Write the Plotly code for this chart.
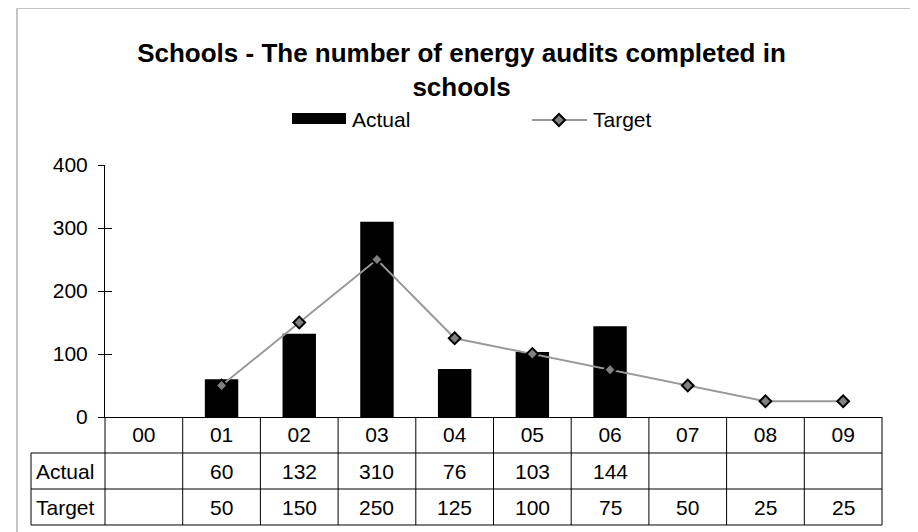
import plotly.graph_objects as go

categories = ["00", "01", "02", "03", "04", "05", "06", "07", "08", "09"]
actual = [None, 60, 132, 310, 76, 103, 144, None, None, None]
target = [None, 50, 150, 250, 125, 100, 75, 50, 25, 25]
series_names = ["Actual", "Target"]
y_ticks = [0, 100, 200, 300, 400]
title_text = "Schools - The number of energy audits completed in<br>schools"

OFF = 8  # browser default body margin
W, H = 918 - OFF, 532 - OFF
L, R, T, B = 105 - OFF, 882 - OFF, 165 - OFF, 417 - OFF  # plot-area edges


def px_x(px):
    """page pixel (reference) -> paper x"""
    return (px - OFF - L) / (R - L)


def px_y(py):
    return (B - (py - OFF)) / (B - T)


FONT = "Liberation Sans, Arial, sans-serif"
LINE_GRAY = "#999999"
MARK_GRAY = "#808080"

fig = go.Figure()
fig.add_trace(go.Bar(
    x=categories, y=actual, name=series_names[0], width=0.43,
    marker=dict(color="black", line=dict(width=0)), showlegend=False,
    hoverinfo="skip",
))
fig.add_trace(go.Scatter(
    x=categories, y=target, name=series_names[1], mode="lines+markers",
    yaxis="y2",
    line=dict(color=LINE_GRAY, width=2),
    marker=dict(symbol="diamond", size=9, color=MARK_GRAY,
                line=dict(color="black", width=2)),
    showlegend=False, hoverinfo="skip", cliponaxis=False,
))

shapes = []
# outer chart border
shapes.append(dict(type="rect", xref="paper", yref="paper",
                   x0=px_x(17), x1=px_x(935), y0=px_y(8), y1=px_y(550),
                   line=dict(color="#c4c4c4", width=2), layer="below"))

n = len(categories)
row_lines = [453, 489, 525]
# vertical category boundaries through the data table
for i in range(n + 1):
    shapes.append(dict(type="line", xref="paper", yref="paper",
                       x0=i / n, x1=i / n, y0=0, y1=px_y(525),
                       line=dict(color="black", width=1)))
# row label column left edge
shapes.append(dict(type="line", xref="paper", yref="paper",
                   x0=px_x(31), x1=px_x(31), y0=px_y(453), y1=px_y(525),
                   line=dict(color="black", width=1)))
for ry in row_lines:
    shapes.append(dict(type="line", xref="paper", yref="paper",
                       x0=px_x(31), x1=1, y0=px_y(ry), y1=px_y(ry),
                       line=dict(color="black", width=1)))

# custom legend
shapes.append(dict(type="rect", xref="paper", yref="paper",
                   x0=px_x(292), x1=px_x(346), y0=px_y(113), y1=px_y(124),
                   fillcolor="black", line=dict(width=0)))
shapes.append(dict(type="line", xref="paper", yref="paper",
                   x0=px_x(532), x1=px_x(587), y0=px_y(120), y1=px_y(120),
                   line=dict(color=LINE_GRAY, width=2)))
shapes.append(dict(type="path", xref="paper", yref="paper",
                   xsizemode="pixel", ysizemode="pixel",
                   xanchor=px_x(559), yanchor=px_y(120),
                   path="M -6 0 L 0 6 L 6 0 L 0 -6 Z",
                   fillcolor=MARK_GRAY, line=dict(color="black", width=2)))

annotations = []
annotations.append(dict(xref="paper", yref="paper", x=px_x(350), y=px_y(119),
                        text=series_names[0], showarrow=False, xanchor="left",
                        yanchor="middle", font=dict(family=FONT, size=21, color="black")))
annotations.append(dict(xref="paper", yref="paper", x=px_x(591), y=px_y(119),
                        text=series_names[1], showarrow=False, xanchor="left",
                        yanchor="middle", font=dict(family=FONT, size=21, color="black")))

# data table rows
rows = [(series_names[0], actual, 471), (series_names[1], target, 507)]
for label, vals, cy in rows:
    annotations.append(dict(xref="paper", yref="paper", x=px_x(34), y=px_y(cy),
                            text=label, showarrow=False, xanchor="left",
                            yanchor="middle",
                            font=dict(family=FONT, size=21, color="black")))
    for c, v in zip(categories, vals):
        if v is None:
            continue
        annotations.append(dict(xref="x", yref="paper", x=c, y=px_y(cy),
                                text=str(v), showarrow=False, xanchor="center",
                                yanchor="middle",
                                font=dict(family=FONT, size=21, color="black")))

fig.update_layout(
    width=W, height=H,
    margin=dict(l=L, r=W - R, t=T, b=H - B, pad=0),
    paper_bgcolor="white", plot_bgcolor="white",
    title=dict(text="<b>" + title_text + "</b>", x=453.5 / W, xanchor="center",
               xref="container", yref="container", y=1 - 54 / H, yanchor="top",
               font=dict(family=FONT, size=26, color="black")),
    xaxis=dict(type="category", categoryorder="array", categoryarray=categories,
               range=[-0.5, n - 0.5], showline=True, linecolor="black",
               linewidth=1, ticks="", showgrid=False, zeroline=False,
               tickfont=dict(family=FONT, size=21, color="black"),
               ticklabelstandoff=-1),
    yaxis=dict(range=[0, 400], tickvals=y_ticks, showline=True,
               linecolor="black", linewidth=1, ticks="outside", ticklen=6,
               tickcolor="black", showgrid=False, zeroline=False,
               tickfont=dict(family=FONT, size=21, color="black"),
               ticklabelstandoff=6),
    yaxis2=dict(range=[0, 400], overlaying="y", side="left", tickvals=y_ticks,
                ticks="inside", ticklen=7, tickcolor="black",
                showticklabels=False, showline=False, showgrid=False,
                zeroline=False),
    shapes=shapes, annotations=annotations, showlegend=False,
)

fig.write_html("out.html")
